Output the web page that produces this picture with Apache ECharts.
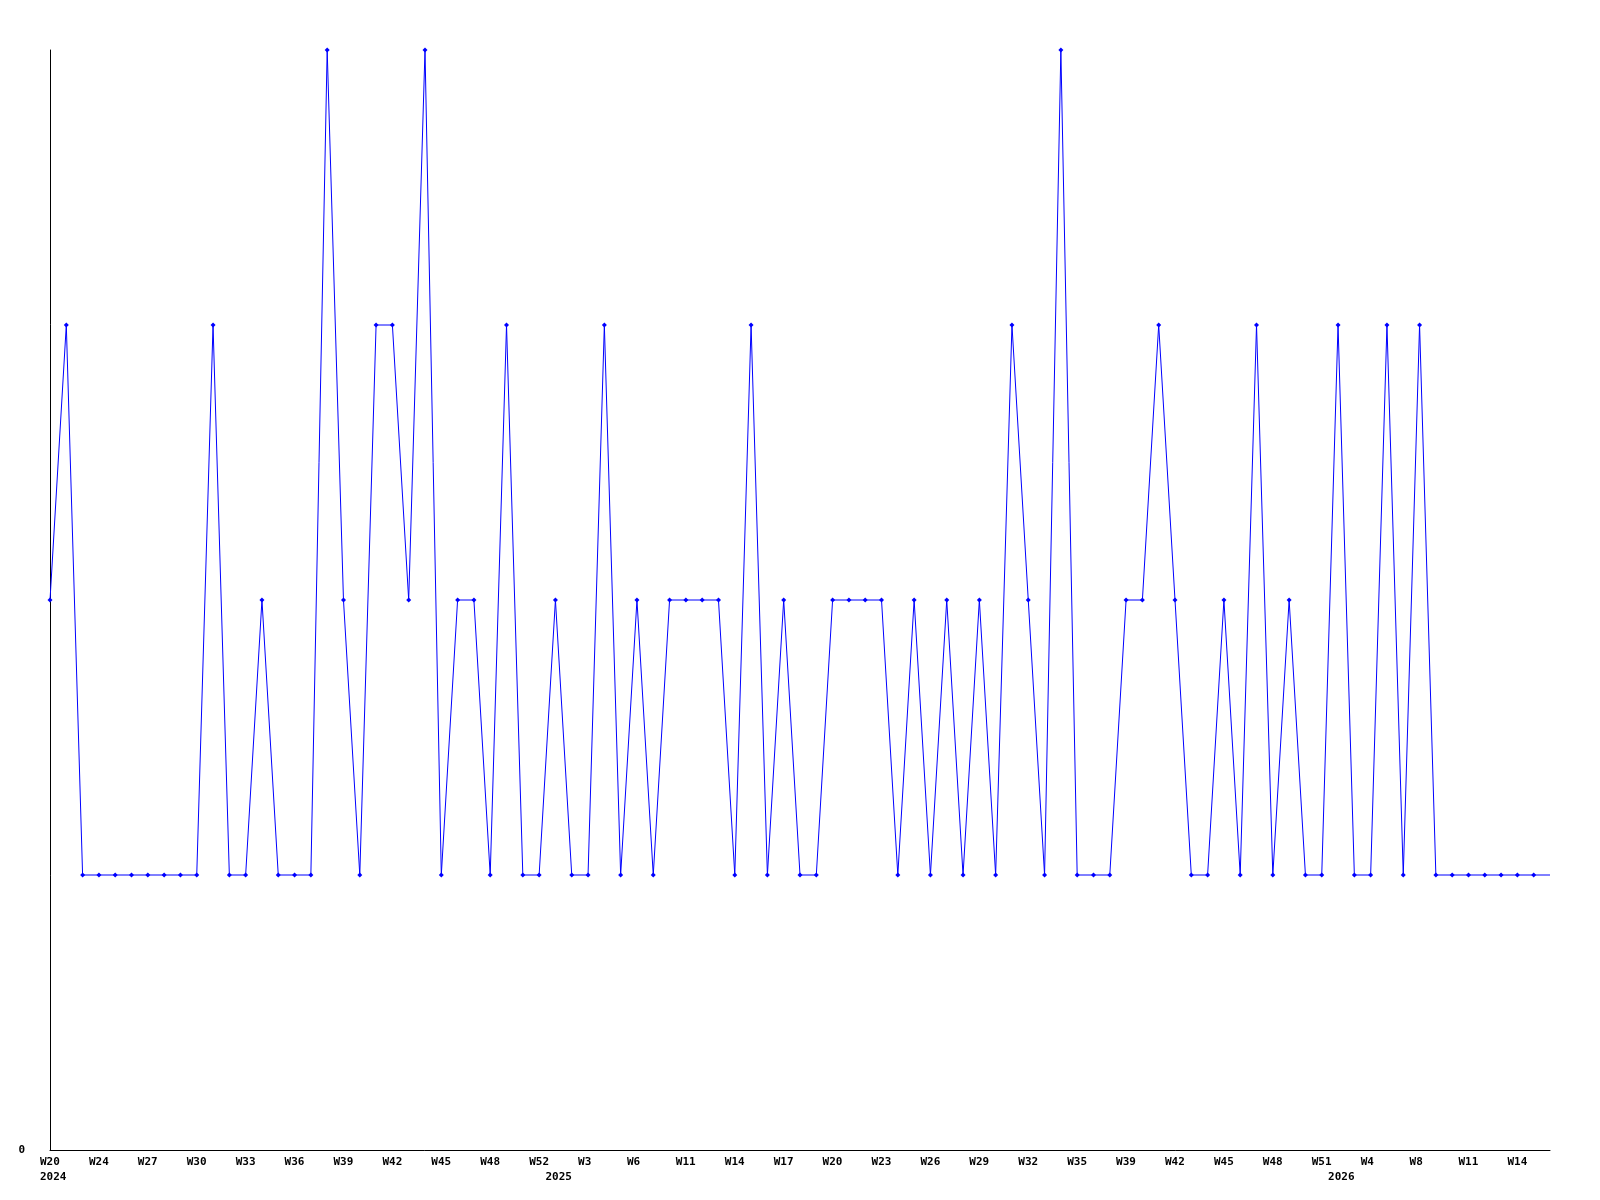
<!DOCTYPE html>
<html>
<head>
<meta charset="utf-8">
<script src="https://cdn.jsdelivr.net/npm/echarts@6/dist/echarts.min.js"></script>
<style>
html,body{margin:0;padding:0;background:#fff;}
#chart{width:1600px;height:1200px;}
</style>
</head>
<body>
<div id="chart"></div>
<script>
// Series values, one per sample (last sample drawn without a marker)
const values = [
  2,3,1,1,1,1,1,1,1,1,3,1,1,2,1,1,1,4,2,1,3,3,2,4,
  1,2,2,1,3,1,1,2,1,1,3,1,2,1,2,2,2,2,1,3,1,2,1,1,
  2,2,2,2,1,2,1,2,1,2,1,3,2,1,4,1,1,1,2,2,3,2,1,1,
  2,1,3,1,2,1,1,3,1,1,3,1,3,1,1,1,1,1,1,1,
  1
];
const categories = values.map((v, i) => String(i));

// Week tick labels and the sample index each sits on
const weekTickIndex = [0,3,6,9,12,15,18,21,24,27,30,33,36,39,42,45,48,51,54,57,60,63,66,69,72,75,78,81,84,87,90];
const weekTickText  = ['W20','W24','W27','W30','W33','W36','W39','W42','W45','W48','W52','W3','W6','W11','W14','W17','W20','W23','W26','W29','W32','W35','W39','W42','W45','W48','W51','W4','W8','W11','W14'];
// Year labels
const yearTickIndex = [0,31,79];
const yearTickText  = ['2024','2025','2026'];

const weekMap = {}; weekTickIndex.forEach((k, i) => weekMap[k] = weekTickText[i]);
const yearMap = {}; yearTickIndex.forEach((k, i) => yearMap[k] = yearTickText[i]);

const FONT = 'DejaVu Sans Mono';
const lab = {fontFamily: FONT, fontWeight: 'bold', fontSize: 11, lineHeight: 15, color: '#000', width: 20, align: 'left'};

const chart = echarts.init(document.getElementById('chart'), null, {renderer: 'canvas'});
chart.setOption({
  animation: false,
  backgroundColor: '#ffffff',
  grid: {left: 50, right: 50, top: 50, bottom: 50, containLabel: false},
  xAxis: {
    type: 'category',
    data: categories,
    boundaryGap: false,
    axisLine: {show: true, lineStyle: {color: '#000', width: 1}},
    axisTick: {show: false},
    splitLine: {show: false},
    axisLabel: {
      margin: 5,
      interval: (idx) => weekMap[idx] !== undefined || yearMap[idx] !== undefined,
      formatter: (val, idx) => {
        const i = Number(val);
        const w = weekMap[i] !== undefined ? weekMap[i] : ' ';
        const y = yearMap[i] !== undefined ? yearMap[i] : ' ';
        return '{w|' + w + '}\n{y|' + y + '}';
      },
      rich: {w: lab, y: lab}
    }
  },
  yAxis: {
    type: 'value',
    min: 0,
    max: 4,
    interval: 4,
    axisLine: {show: true, lineStyle: {color: '#000', width: 1}},
    axisTick: {show: false},
    splitLine: {show: false},
    axisLabel: {
      margin: 25,
      fontFamily: FONT, fontWeight: 'bold', fontSize: 11, color: '#000',
      formatter: (v) => v === 0 ? '0' : ''
    }
  },
  series: [{
    type: 'line',
    data: values.map((v, i) => i === values.length - 1 ? {value: v, symbol: 'none'} : v),
    symbol: 'diamond',
    symbolSize: 5,
    showAllSymbol: true,
    itemStyle: {color: '#0000ff'},
    lineStyle: {color: '#0000ff', width: 1},
    emphasis: {disabled: true}
  }]
});
</script>
</body>
</html>
